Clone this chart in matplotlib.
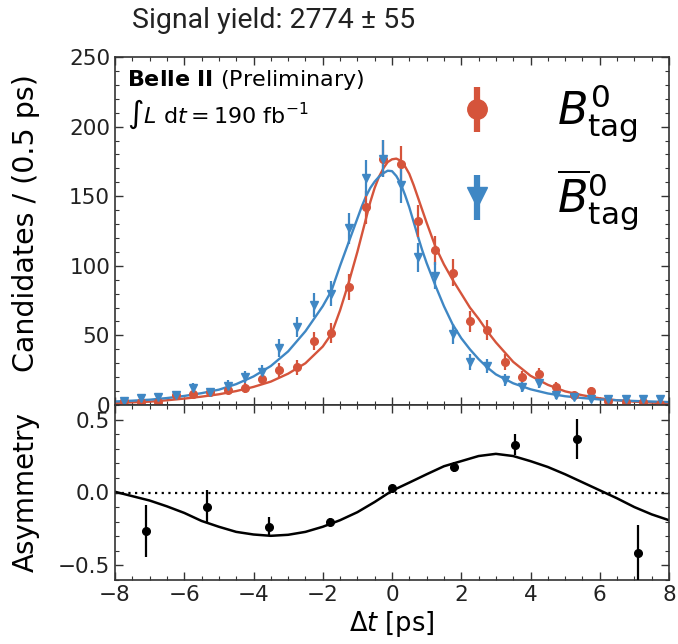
import numpy as np
import matplotlib
matplotlib.use("Agg")
import matplotlib.pyplot as plt
from matplotlib.ticker import MultipleLocator

# ---------------- data ----------------
bin_centers = [-7.75, -7.25, -6.75, -6.25, -5.75, -5.25, -4.75, -4.25,
               -3.75, -3.25, -2.75, -2.25, -1.75, -1.25, -0.75, -0.25,
               0.25, 0.75, 1.25, 1.75, 2.25, 2.75, 3.25, 3.75,
               4.25, 4.75, 5.25, 5.75, 6.25, 6.75, 7.25, 7.75]
b0_counts = [3, 2, 2, 7, 8, 9, 11, 12, 19, 25, 27, 46, 52, 85, 142, 177,
             173, 132, 111, 95, 60, 54, 31, 20, 22, 13, 7, 10, 3, 2, 2, 1]
b0bar_counts = [3, 5, 6, 7, 12, 9, 14, 20, 24, 41, 56, 72, 80, 127, 163, 177,
                158, 106, 93, 51, 31, 28, 18, 13, 16, 7, 6, 4, 4, 4, 4, 4]

fit_t = [-8, -7.5, -7, -6.5, -6, -5.5, -5, -4.5, -4, -3.5, -3, -2.5, -2,
         -1.75, -1.5, -1.25, -1, -0.875, -0.75, -0.625, -0.5, -0.375,
         -0.25, -0.125, 0, 0.125, 0.25, 0.375, 0.5, 0.625, 0.75, 0.875,
         1, 1.25, 1.5, 1.75, 2, 2.25, 2.5, 2.75, 3, 3.5, 4, 4.5, 5, 5.5,
         6, 6.5, 7, 7.5, 8]
b0_fit = [1.5, 1.9, 2.4, 3.4, 4.6, 6, 7.7, 10, 13, 16.8, 22.5, 30, 42,
          51, 68, 88, 110, 122, 134, 146, 156, 164, 170, 174.5, 176.5,
          177, 175.5, 171.5, 166, 158, 149, 140,
          131, 114, 101, 90, 80, 70, 62, 53, 45, 31, 21, 14.5, 9.8, 7,
          4.8, 3.4, 2.4, 1.7, 1.2]
b0bar_fit = [2.5, 3.1, 3.8, 5, 6.5, 8.5, 11, 15, 20.5, 28, 38.5, 53, 71,
             82, 100, 117, 134, 142.5, 150, 156, 160.5, 164, 166.5, 168.3,
             168, 164.5, 159, 151, 142, 131.5, 121, 111,
             102, 86, 71, 58, 48, 40, 33, 27, 22, 15.6, 11.3, 8.3, 6.3, 5,
             4, 3.4, 2.9, 2.5, 2.1]

asym_t = [-7.11, -5.33, -3.56, -1.78, 0.0, 1.78, 3.56, 5.33, 7.11]
asym_val = [-0.265, -0.098, -0.235, -0.203, 0.032, 0.173, 0.329, 0.368, -0.413]
asym_err = [0.18, 0.114, 0.066, 0.03, 0.015, 0.033, 0.074, 0.137, 0.19]

asym_fit_t = [-8, -7.5, -7, -6.5, -6, -5.5, -5, -4.5, -4, -3.5, -3, -2.5,
              -2, -1.5, -1, -0.5, 0, 0.5, 1, 1.5, 2, 2.5, 3, 3.5, 4, 4.5,
              5, 5.5, 6, 6.5, 7, 7.5, 8]
asym_fit = [0.005, -0.025, -0.055, -0.095, -0.14, -0.195, -0.235, -0.27,
            -0.288, -0.297, -0.29, -0.27, -0.235, -0.19, -0.135, -0.065,
            0.012, 0.068, 0.125, 0.18, 0.215, 0.25, 0.265, 0.25, 0.215,
            0.175, 0.125, 0.07, 0.015, -0.04, -0.1, -0.15, -0.19]

title_text = "Signal yield: 2774 \u00b1 55"

RED = "#d5543b"
BLUE = "#3f87c4"
SPINE = "#333333"

plt.rcParams["font.family"] = ["DejaVu Sans"]
plt.rcParams["mathtext.fontset"] = "dejavusans"

fig = plt.figure(figsize=(6.78, 6.44), dpi=100)
L, W = 115 / 678, 554 / 678
ax1 = fig.add_axes([L, 1 - 405 / 644, W, 348 / 644])
ax2 = fig.add_axes([L, 1 - 580 / 644, W, 175 / 644], sharex=ax1)

# top panel
ax1.errorbar(bin_centers, b0_counts, yerr=np.sqrt(b0_counts), fmt="o",
             color=RED, markersize=5.5, elinewidth=1.6, capsize=0, zorder=3)
ax1.errorbar(bin_centers, b0bar_counts, yerr=np.sqrt(b0bar_counts), fmt="v",
             color=BLUE, markersize=5.5, elinewidth=1.6, capsize=0, zorder=3)
ax1.plot(fit_t, b0_fit, color=RED, lw=1.7, zorder=2)
ax1.plot(fit_t, b0bar_fit, color=BLUE, lw=1.7, zorder=2)

ax1.set_ylim(0, 250)
ax1.set_xlim(-8, 8)
ax1.set_ylabel("Candidates / (0.5 ps)", fontsize=20.5)

# legend proxies
h1 = ax1.errorbar([np.nan], [np.nan], yerr=[np.nan], fmt="o", color=RED,
                  markersize=14, elinewidth=4.5, capsize=0)
h2 = ax1.errorbar([np.nan], [np.nan], yerr=[np.nan], fmt="v", color=BLUE,
                  markersize=14, elinewidth=4.5, capsize=0)
leg = ax1.legend([h1, h2], [r"$B^0_{\rm tag}$", r"$\overline{B}^0_{\rm tag}$"],
                 loc="upper left", bbox_to_anchor=(0.573, 0.99),
                 frameon=False, fontsize=32, handlelength=1.0,
                 handletextpad=1.3, borderpad=0, labelspacing=0.5)

ax1.text(0.022, 0.968, r"$\bf{Belle\ II}$ (Preliminary)", transform=ax1.transAxes,
         fontsize=16, va="top", ha="left")
ax1.text(0.022, 0.882, r"$\int L\ \mathrm{d}t = 190\ \mathrm{fb}^{-1}$",
         transform=ax1.transAxes, fontsize=16, va="top", ha="left")

# bottom panel
ax2.axhline(0, color="black", ls=(0, (1, 2)), lw=1.6, zorder=1)
ax2.plot(asym_fit_t, asym_fit, color="black", lw=1.8, zorder=2)
ax2.errorbar(asym_t, asym_val, yerr=asym_err, fmt="o", color="black",
             markersize=5.5, elinewidth=1.6, capsize=0, zorder=3)
ax2.set_ylim(-0.6, 0.6)
ax2.set_xlim(-8, 8)
ax2.set_ylabel("Asymmetry", fontsize=20)
ax2.set_xlabel(r"$\Delta t$ [ps]", fontsize=18.5, labelpad=3)

for ax in (ax1, ax2):
    ax.tick_params(which="both", direction="in", top=True, right=True,
                   labelsize=15.5, colors=SPINE)
    ax.tick_params(which="major", length=6, width=1.0)
    ax.tick_params(which="minor", length=3, width=0.8)
    ax.xaxis.set_major_locator(MultipleLocator(2))
    ax.xaxis.set_minor_locator(MultipleLocator(0.5))
    for s in ax.spines.values():
        s.set_color(SPINE)
        s.set_linewidth(1.2)
    ax.tick_params(labelcolor="#222222")

ax1.yaxis.set_major_locator(MultipleLocator(50))
ax1.yaxis.set_minor_locator(MultipleLocator(10))
ax2.yaxis.set_major_locator(MultipleLocator(0.5))
ax2.yaxis.set_minor_locator(MultipleLocator(0.1))
plt.setp(ax1.get_xticklabels(), visible=False)

ax1.yaxis.set_label_coords(-0.135, 0.522)
ax2.yaxis.set_label_coords(-0.135, 0.5)

fig.text(132 / 678, 1 - 20 / 644, title_text, family="Roboto", fontsize=20.5,
         va="center", ha="left", color="#222222")

fig.savefig("out.png", dpi=100)
